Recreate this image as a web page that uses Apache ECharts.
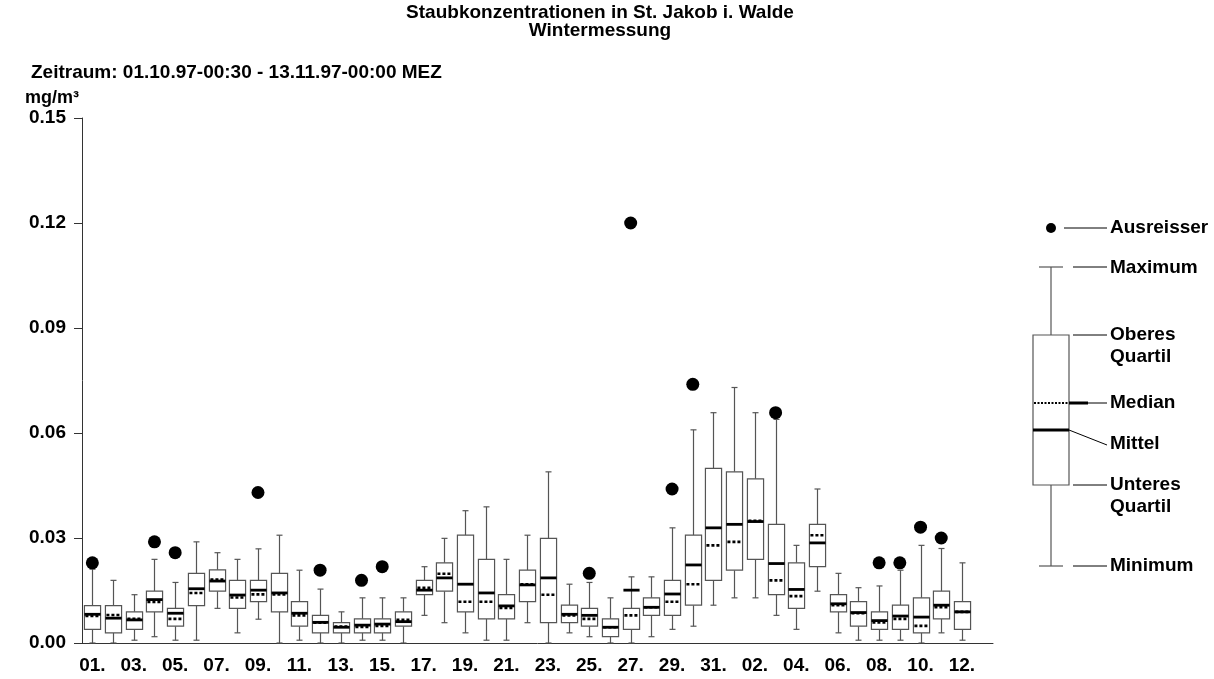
<!DOCTYPE html>
<html>
<head>
<meta charset="utf-8">
<title>Staubkonzentrationen in St. Jakob i. Walde</title>
<script src="https://cdn.jsdelivr.net/npm/echarts/dist/echarts.min.js"></script>
<style>
  html, body { margin: 0; padding: 0; background: #fff; }
  #chart { width: 1214px; height: 679px; }
</style>
</head>
<body>
<div id="chart"></div>
<script>
// Tage: 01.10. - 13.11.1997
var days = ['01.','02.','03.','04.','05.','06.','07.','08.','09.','10.',
            '11.','12.','13.','14.','15.','16.','17.','18.','19.','20.',
            '21.','22.','23.','24.','25.','26.','27.','28.','29.','30.','31.',
            '01.','02.','03.','04.','05.','06.','07.','08.','09.','10.','11.','12.','13.'];

// Werte in mg/m³
var minVals    = [0, 0, 0.0008, 0.0018, 0.0008, 0.0008, 0.0099, 0.0029, 0.0068, 0,
                  0.0008, 0, 0, 0.0008, 0.0008, 0, 0.0079, 0.0058, 0.0029, 0.0008,
                  0.0008, 0.0058, 0, 0.0029, 0.0018, 0, 0, 0.0018, 0.0039, 0.0048, 0.0108,
                  0.0129, 0.0129, 0.0079, 0.0039, 0.0148, 0.0029, 0.0008, 0.0008, 0.0008, 0, 0.0029, 0.0008, null];
var q1Vals     = [0.0039, 0.0029, 0.0039, 0.0089, 0.0048, 0.0107, 0.0148, 0.0099, 0.0118, 0.0089,
                  0.0048, 0.0029, 0.0029, 0.0029, 0.0029, 0.0048, 0.0138, 0.0148, 0.0089, 0.0069,
                  0.0069, 0.0118, 0.0058, 0.0058, 0.0048, 0.0018, 0.0039, 0.0079, 0.0079, 0.0108, 0.0179,
                  0.0208, 0.0239, 0.0138, 0.0099, 0.0218, 0.0089, 0.0048, 0.0039, 0.0039, 0.0029, 0.0069, 0.0039, null];
var medianVals = [0.0077, 0.0080, 0.0069, 0.0117, 0.0069, 0.0143, 0.0181, 0.0130, 0.0139, 0.0139,
                  0.0079, 0.0058, 0.0047, 0.0046, 0.0049, 0.0066, 0.0158, 0.0198, 0.0118, 0.0118,
                  0.0100, 0.0168, 0.0138, 0.0079, 0.0069, 0.0045, 0.0079, 0.0102, 0.0118, 0.0168, 0.0279,
                  0.0289, 0.0349, 0.0179, 0.0134, 0.0308, 0.0108, 0.0085, 0.0059, 0.0069, 0.0049, 0.0102, 0.0089, null];
var q3Vals     = [0.0107, 0.0107, 0.0089, 0.0148, 0.0099, 0.0199, 0.0209, 0.0179, 0.0179, 0.0199,
                  0.0118, 0.0079, 0.0058, 0.0069, 0.0069, 0.0089, 0.0179, 0.0229, 0.0308, 0.0239,
                  0.0138, 0.0208, 0.0299, 0.0108, 0.0099, 0.0069, 0.0099, 0.0129, 0.0179, 0.0308, 0.0499,
                  0.0489, 0.0469, 0.0339, 0.0229, 0.0339, 0.0138, 0.0118, 0.0089, 0.0108, 0.0129, 0.0148, 0.0118, null];
var maxVals    = [0.0211, 0.0179, 0.0138, 0.0239, 0.0173, 0.0289, 0.0258, 0.0239, 0.0269, 0.0308,
                  0.0208, 0.0154, 0.0089, 0.0129, 0.0129, 0.0129, 0.0218, 0.0299, 0.0378, 0.0389,
                  0.0239, 0.0308, 0.0489, 0.0168, 0.0173, 0.0129, 0.0189, 0.0189, 0.0329, 0.0609, 0.0658,
                  0.0730, 0.0658, 0.0639, 0.0279, 0.0440, 0.0199, 0.0158, 0.0163, 0.0208, 0.0279, 0.0270, 0.0229, null];
var meanVals   = [0.0082, 0.0071, 0.0066, 0.0124, 0.0085, 0.0155, 0.0177, 0.0137, 0.0151, 0.0143,
                  0.0085, 0.0059, 0.0045, 0.0051, 0.0054, 0.0061, 0.0151, 0.0186, 0.0168, 0.0143,
                  0.0106, 0.0166, 0.0186, 0.0082, 0.0079, 0.0045, 0.0151, 0.0102, 0.0140, 0.0223, 0.0329,
                  0.0339, 0.0347, 0.0227, 0.0153, 0.0286, 0.0112, 0.0087, 0.0064, 0.0077, 0.0074, 0.0108, 0.0089, null];

// Ausreisser: Tag-Index und Wert
var outlierIdx  = [0, 3, 4, 8, 11, 13, 14, 24, 26, 28, 29, 33, 38, 39, 40, 41];
var outlierVals = [0.0229, 0.0289, 0.0258, 0.043, 0.0208, 0.0179, 0.0218, 0.0199, 0.12, 0.044, 0.0739, 0.0658, 0.0229, 0.0229, 0.0331, 0.030];

var FONT = '"Liberation Sans", Arial, sans-serif';
var TXT = 'bold 19px ' + FONT;
var GREY = '#555';

var boxData = [];
for (var i = 0; i < days.length; i++) {
	if (minVals[i] == null) continue;
	boxData.push([i, minVals[i], q1Vals[i], medianVals[i], q3Vals[i], maxVals[i], meanVals[i]]);
}
var outData = [];
for (var j = 0; j < outlierIdx.length; j++) {
	outData.push([outlierIdx[j], outlierVals[j]]);
}

function renderBox(params, api) {
	var x = api.value(0);
	var pMin = api.coord([x, api.value(1)]);
	var pQ1 = api.coord([x, api.value(2)]);
	var pMed = api.coord([x, api.value(3)]);
	var pQ3 = api.coord([x, api.value(4)]);
	var pMax = api.coord([x, api.value(5)]);
	var pMean = api.coord([x, api.value(6)]);
	var bw = api.size([1, 0])[0] * 0.78;
	var cx = Math.round(pMin[0]) + 0.5;
	var l = cx - bw / 2, r = cx + bw / 2;
	var line = function (x1, y1, x2, y2, st) {
		return { type: 'line', shape: { x1: x1, y1: y1, x2: x2, y2: y2 }, style: st };
	};
	var thin = { stroke: GREY, lineWidth: 1.2 };
	return {
		type: 'group',
		children: [
			line(cx, pQ1[1], cx, pMin[1], thin),
			line(cx, pQ3[1], cx, pMax[1], thin),
			line(cx - 3, pMin[1], cx + 3, pMin[1], thin),
			line(cx - 3, pMax[1], cx + 3, pMax[1], thin),
			{ type: 'rect', shape: { x: l, y: pQ3[1], width: bw, height: pQ1[1] - pQ3[1] },
			  style: { fill: '#fff', stroke: GREY, lineWidth: 1.2 } },
			line(l + 1, pMed[1], r - 1, pMed[1], { stroke: '#000', lineWidth: 2.6, lineDash: [3, 2] }),
			line(l, pMean[1], r, pMean[1], { stroke: '#000', lineWidth: 2.8 })
		]
	};
}

// Legende rechts (Erklaerung der Box)
var lx = 1051, lbL = 1033, lbR = 1069, tx = 1110;
function gl(x1, y1, x2, y2, st) {
	return { type: 'line', shape: { x1: x1, y1: y1, x2: x2, y2: y2 }, style: st || { stroke: '#000', lineWidth: 1 } };
}
function gt(text, x, y, st) {
	var s = { text: text, x: x, y: y, font: TXT, fill: '#000', textVerticalAlign: 'middle' };
	for (var k in st) s[k] = st[k];
	return { type: 'text', style: s };
}
var legendKey = [
	{ type: 'circle', shape: { cx: lx, cy: 228, r: 5 }, style: { fill: '#000' } },
	gl(1064, 228, 1107, 228),
	gl(lx, 267, lx, 335, { stroke: GREY, lineWidth: 1.2 }),
	gl(lx, 485, lx, 566, { stroke: GREY, lineWidth: 1.2 }),
	gl(1039, 267, 1063, 267, { stroke: GREY, lineWidth: 1.2 }),
	gl(1039, 566, 1063, 566, { stroke: GREY, lineWidth: 1.2 }),
	{ type: 'rect', shape: { x: lbL, y: 335, width: lbR - lbL, height: 150 }, style: { fill: '#fff', stroke: GREY, lineWidth: 1.2 } },
	gl(lbL + 1, 403, lbR, 403, { stroke: '#000', lineWidth: 2, lineDash: [2, 1.5] }),
	gl(lbR, 403, 1088, 403, { stroke: '#000', lineWidth: 3 }),
	gl(1088, 403, 1107, 403),
	gl(lbL, 430, lbR, 430, { stroke: '#000', lineWidth: 3 }),
	gl(lbR, 430, 1107, 445),
	gl(1073, 267, 1107, 267),
	gl(1073, 335, 1107, 335),
	gl(1073, 485, 1107, 485),
	gl(1073, 566, 1107, 566),
	gt('Ausreisser', tx, 228),
	gt('Maximum', tx, 268),
	gt('Oberes', tx, 335),
	gt('Quartil', tx, 357),
	gt('Median', tx, 403),
	gt('Mittel', tx, 444),
	gt('Unteres', tx, 485),
	gt('Quartil', tx, 507),
	gt('Minimum', tx, 566)
];

var titles = [
	gt('Staubkonzentrationen in St. Jakob i. Walde', 600, 13, { textAlign: 'center' }),
	gt('Wintermessung', 600, 31, { textAlign: 'center' }),
	gt('Zeitraum: 01.10.97-00:30 - 13.11.97-00:00 MEZ', 31, 73),
	gt('mg/m³', 25, 98, { font: 'bold 18px ' + FONT })
];

var mychart = echarts.init(document.getElementById('chart'));
var option = {
	backgroundColor: '#fff',
	animation: false,
	grid: { left: 82, right: 221, top: 118, bottom: 36 },
	xAxis: {
		type: 'category',
		data: days,
		boundaryGap: true,
		axisLine: { lineStyle: { color: '#333', width: 1 } },
		axisTick: { alignWithLabel: true, interval: 0, length: 11, lineStyle: { color: '#333' } },
		axisLabel: { interval: 1, margin: 13, color: '#000', fontWeight: 'bold', fontSize: 19, fontFamily: FONT },
		splitLine: { show: false }
	},
	yAxis: {
		type: 'value',
		min: 0,
		max: 0.15,
		interval: 0.03,
		axisLine: { show: true, lineStyle: { color: '#333', width: 1 } },
		axisTick: { show: true, length: 8, lineStyle: { color: '#333' } },
		axisLabel: {
			margin: 16, color: '#000', fontWeight: 'bold', fontSize: 19, fontFamily: FONT,
			formatter: function (v) { return v.toFixed(2); }
		},
		splitLine: { show: false }
	},
	series: [
		{
			type: 'custom',
			renderItem: renderBox,
			encode: { x: 0, y: [1, 2, 3, 4, 5, 6] },
			data: boxData,
			z: 2
		},
		{
			type: 'scatter',
			data: outData,
			symbol: 'circle',
			symbolSize: 13,
			itemStyle: { color: '#000', opacity: 1 },
			z: 3
		}
	],
	graphic: titles.concat(legendKey)
};
mychart.setOption(option);
</script>
</body>
</html>
